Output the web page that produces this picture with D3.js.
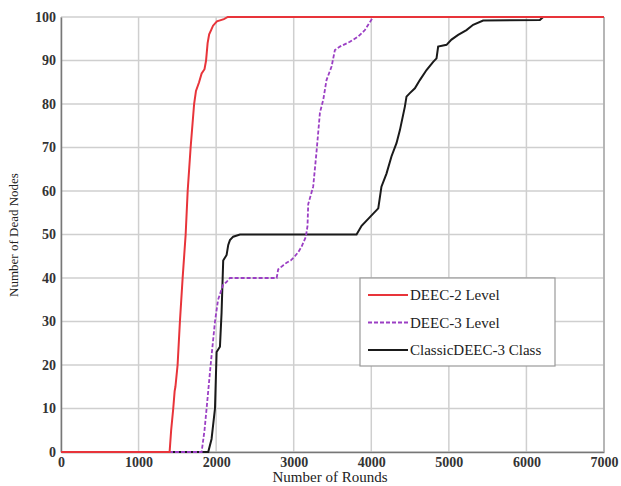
<!DOCTYPE html>
<html><head><meta charset="utf-8">
<script src="https://cdn.jsdelivr.net/npm/d3@7"></script>
<style>body{margin:0;background:#fff}svg{display:block}</style>
</head><body><svg id="c" width="621" height="486"></svg>
<script>
const xTicks = [0,1000,2000,3000,4000,5000,6000,7000];
const yTicks = [0,10,20,30,40,50,60,70,80,90,100];
const seriesNames = ["DEEC-2 Level","DEEC-3 Level","ClassicDEEC-3 Class"];
const deec2 = [[0,0],[1400,0],[1420,5],[1447,10],[1465,14],[1475,15],[1503,20],[1533,30],[1568,40],[1607,50],[1633,60],[1671,70],[1716,80],[1740,83],[1780,85],[1813,87],[1850,88],[1870,90],[1890,94],[1910,96],[1935,97],[1960,98],[2010,99],[2100,99.5],[2150,100],[7000,100]];
const deec3 = [[0,0],[1813,0],[1850,5],[1877,10],[1929,20],[1985,30],[2025,35],[2091,38.5],[2130,39],[2178,40],[2780,40],[2800,42],[2870,43],[2908,43.5],[2960,44],[3015,45],[3060,46],[3101,47.2],[3157,49.5],[3178,52],[3187,57],[3251,61],[3294,69],[3338,78],[3381,81],[3423,85.5],[3488,88.6],[3531,92.4],[3595,93.2],[3724,94.3],[3831,95.5],[3918,97],[3970,98.5],[4025,100]];
const classic3 = [[0,0],[1898,0],[1941,3],[1985,10],[2006,23],[2049,24.2],[2070,32],[2091,44],[2135,45.3],[2156,47.6],[2178,48.7],[2220,49.5],[2307,50],[3810,50],[3875,52],[3982,54],[4090,56],[4131,61],[4196,64],[4261,68],[4325,71],[4369,74],[4433,79.4],[4454,81.7],[4497,82.5],[4562,83.6],[4626,85.5],[4712,87.8],[4798,89.7],[4841,90.5],[4862,93.2],[4970,93.6],[5034,94.8],[5120,95.9],[5227,97],[5313,98.2],[5442,99.2],[6173,99.3],[6216,100],[7000,100]];

const svg = d3.select("#c");
const L=61,R=604,T=17,B=452;
const x = d3.scaleLinear().domain([0,7000]).range([L,R]);
const y = d3.scaleLinear().domain([0,100]).range([B,T]);
const font = "'Liberation Serif','Times New Roman',serif";

// grid
svg.append("g").selectAll("line.v").data(xTicks).join("line")
  .attr("x1",d=>x(d)).attr("x2",d=>x(d)).attr("y1",T).attr("y2",B)
  .attr("stroke","#cfcfcf").attr("stroke-width",1.5);
svg.append("g").selectAll("line.h").data(yTicks).join("line")
  .attr("y1",d=>y(d)).attr("y2",d=>y(d)).attr("x1",L).attr("x2",R)
  .attr("stroke","#cfcfcf").attr("stroke-width",1.5);

// axes
const xa = svg.append("g").attr("transform",`translate(0,${B})`)
  .call(d3.axisBottom(x).tickValues(xTicks).tickSize(0).tickPadding(5).tickFormat(d3.format("d")));
const ya = svg.append("g").attr("transform",`translate(${L},0)`)
  .call(d3.axisLeft(y).tickValues(yTicks).tickSize(0).tickPadding(5));
[xa,ya].forEach(a=>{
  a.select(".domain").attr("stroke","#777").attr("stroke-width",1.5);
  a.selectAll("text").attr("font-family",font).attr("font-size",14).attr("font-weight","bold").attr("fill","#333");
});
svg.append("line").attr("x1",R).attr("x2",R).attr("y1",T).attr("y2",B).attr("stroke","#aaa").attr("stroke-width",1.5);

const line = d3.line().x(d=>x(d[0])).y(d=>y(d[1]));
svg.append("path").datum(classic3).attr("d",line).attr("fill","none").attr("stroke","#1a1a1a").attr("stroke-width",2);
svg.append("path").datum(deec3).attr("d",line).attr("fill","none").attr("stroke","#9b3fc4").attr("stroke-width",1.8).attr("stroke-dasharray","4,2");
svg.append("path").datum(deec2).attr("d",line).attr("fill","none").attr("stroke","#e8343a").attr("stroke-width",2);

// labels
svg.append("text").attr("x",330).attr("y",482).attr("text-anchor","middle")
  .attr("font-family",font).attr("font-size",15).attr("fill","#222").text("Number of Rounds");
svg.append("text").attr("transform","translate(18,235) rotate(-90)").attr("text-anchor","middle")
  .attr("font-family",font).attr("font-size",13).attr("fill","#222").text("Number of Dead Nodes");

// legend
const lg = svg.append("g");
lg.append("rect").attr("x",360).attr("y",278).attr("width",195).attr("height",88)
  .attr("fill","#fff").attr("stroke","#999").attr("stroke-width",1.2);
const styles = [{c:"#e8343a",d:null,w:2},{c:"#9b3fc4",d:"4,2",w:1.8},{c:"#1a1a1a",d:null,w:2}];
seriesNames.forEach((n,i)=>{
  const yy = 295+i*27.5;
  lg.append("line").attr("x1",368).attr("x2",408).attr("y1",yy).attr("y2",yy)
    .attr("stroke",styles[i].c).attr("stroke-width",styles[i].w).attr("stroke-dasharray",styles[i].d);
  lg.append("text").attr("x",410).attr("y",yy+5).attr("font-family",font).attr("font-size",15)
    .attr("fill","#222").text(n);
});
</script></body></html>
